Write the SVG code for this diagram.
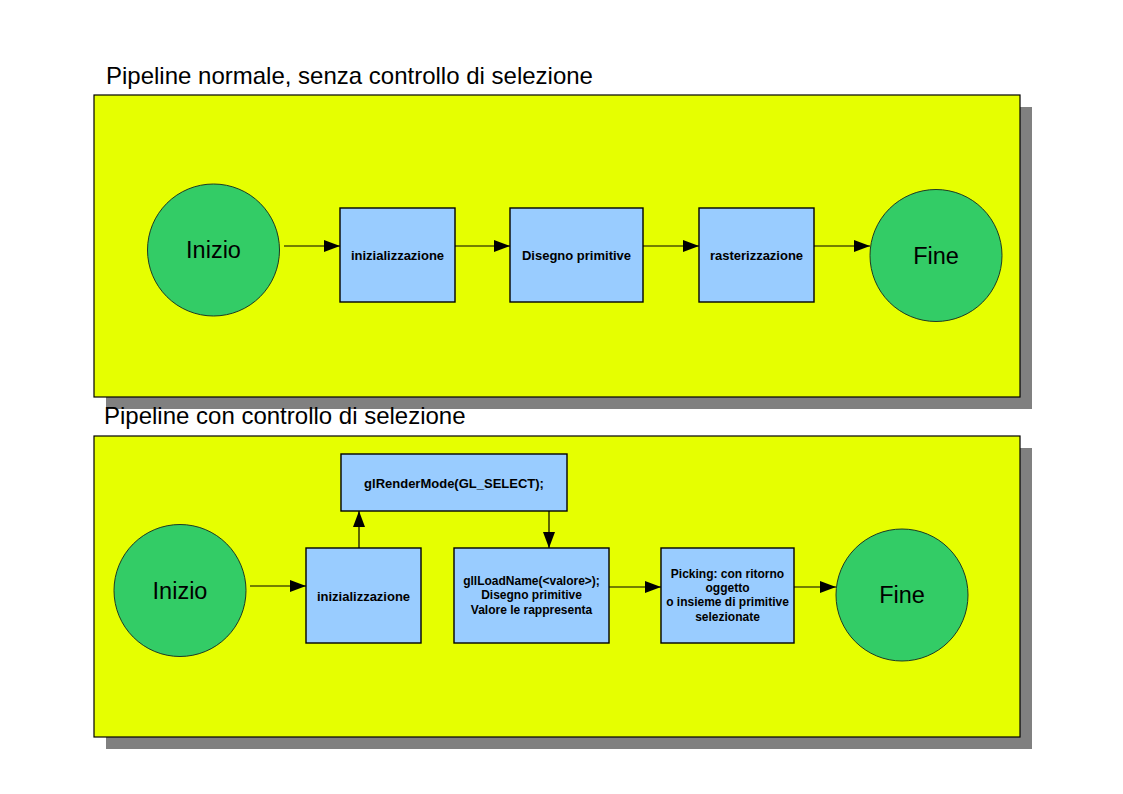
<svg xmlns="http://www.w3.org/2000/svg" width="1123" height="794" viewBox="0 0 1123 794">
<defs>
<style>
.shadow{fill:#808080;stroke:none}
.panel{fill:#e6ff00;stroke:#000;stroke-width:1.2}
.box{fill:#99ccff;stroke:#000;stroke-width:1.4}
.circ{fill:#33cc66;stroke:#1e3a22;stroke-width:1}
.title{font-family:"Liberation Sans",Arial,sans-serif;font-size:24px;fill:#000}
.big{font-family:"Liberation Sans",Arial,sans-serif;font-size:23.5px;fill:#000;text-anchor:middle}
.lbl{font-family:"Liberation Sans",Arial,sans-serif;font-size:13px;font-weight:bold;fill:#000;text-anchor:middle}
.sm{font-family:"Liberation Sans",Arial,sans-serif;font-size:12px;font-weight:bold;fill:#000;text-anchor:middle}
.conn{stroke:#000;stroke-width:1.2;fill:none;marker-end:url(#arr)}
</style>
<marker id="arr" markerUnits="userSpaceOnUse" markerWidth="16" markerHeight="12" refX="16" refY="6" orient="auto">
<path d="M0,0 L16,6 L0,12 z" fill="#000"/>
</marker>
</defs>
<rect width="1123" height="794" fill="#fff"/>

<g id="panel1">
<rect class="shadow" x="106" y="107" width="926" height="302"/>
<rect class="panel" x="94" y="95" width="926" height="302"/>
<text class="title" x="106" y="84">Pipeline normale, senza controllo di selezione</text>
</g>
<g id="panel2">
<rect class="shadow" x="106" y="448" width="926" height="301"/>
<rect class="panel" x="94" y="436" width="926" height="301"/>
<text class="title" x="104" y="424">Pipeline con controllo di selezione</text>
</g>

<g id="connectors">
<line class="conn" x1="284" y1="246" x2="340" y2="246"/>
<line class="conn" x1="455" y1="246" x2="510" y2="246"/>
<line class="conn" x1="643" y1="246" x2="699" y2="246"/>
<line class="conn" x1="814" y1="246" x2="870" y2="246"/>
<line class="conn" x1="250" y1="586" x2="306" y2="586"/>
<line class="conn" x1="359" y1="548" x2="359" y2="511"/>
<line class="conn" x1="549" y1="511" x2="549" y2="548"/>
<line class="conn" x1="609" y1="587" x2="661" y2="587"/>
<line class="conn" x1="794" y1="587" x2="836" y2="587"/>
</g>

<g id="inizio1">
<circle class="circ" cx="213.5" cy="250" r="66"/>
<text class="big" x="213.5" y="258">Inizio</text>
</g>
<g id="init1">
<rect class="box" x="340" y="208" width="115" height="94"/>
<text class="lbl" x="397.5" y="260">inizializzazione</text>
</g>
<g id="disegno1">
<rect class="box" x="510" y="208" width="133" height="94"/>
<text class="lbl" x="576.5" y="260">Disegno primitive</text>
</g>
<g id="raster1">
<rect class="box" x="699" y="208" width="115" height="94"/>
<text class="lbl" x="756.5" y="260">rasterizzazione</text>
</g>
<g id="fine1">
<circle class="circ" cx="936" cy="255.5" r="66"/>
<text class="big" x="936" y="264">Fine</text>
</g>

<g id="inizio2">
<circle class="circ" cx="180" cy="590.5" r="66"/>
<text class="big" x="180" y="598.5">Inizio</text>
</g>
<g id="init2">
<rect class="box" x="306" y="548" width="115" height="95"/>
<text class="lbl" x="363.5" y="600.5">inizializzazione</text>
</g>
<g id="render">
<rect class="box" x="341" y="454" width="226" height="57"/>
<text class="lbl" x="454" y="487.5">glRenderMode(GL_SELECT);</text>
</g>
<g id="loadname">
<rect class="box" x="454" y="548" width="155" height="95"/>
<text class="sm" x="531.5" y="585">gllLoadName(&lt;valore&gt;);</text>
<text class="sm" x="531.5" y="599">Disegno primitive</text>
<text class="sm" x="531.5" y="614">Valore le rappresenta</text>
</g>
<g id="picking">
<rect class="box" x="661" y="548" width="133" height="95"/>
<text class="sm" x="727.5" y="578">Picking: con ritorno</text>
<text class="sm" x="727.5" y="592">oggetto</text>
<text class="sm" x="727.5" y="606">o insieme di primitive</text>
<text class="sm" x="727.5" y="621">selezionate</text>
</g>
<g id="fine2">
<circle class="circ" cx="902" cy="595" r="66"/>
<text class="big" x="902" y="603">Fine</text>
</g>
</svg>
